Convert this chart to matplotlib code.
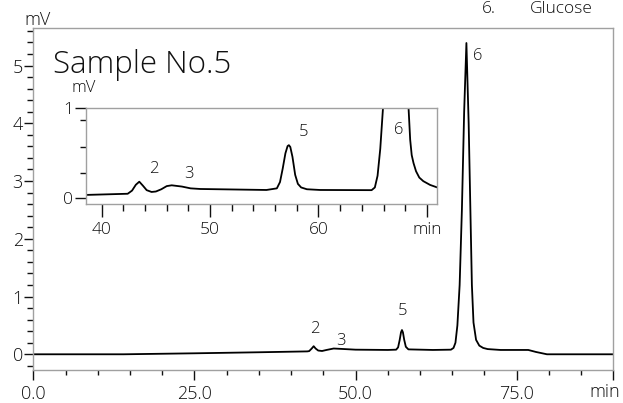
import matplotlib
matplotlib.use("Agg")
import matplotlib.pyplot as plt
from matplotlib.ticker import FixedLocator

plt.rcParams['font.family'] = ['Open Sans', 'DejaVu Sans']
plt.rcParams['font.weight'] = 'light'

# Full chromatogram trace (retention time in min, detector signal in mV)
main_time = [0.0, 14.0, 25.0, 35.0, 42.5, 42.8, 43.2, 43.5, 43.8, 44.2, 44.8, 45.5,
             46.6, 47.5, 50.0, 55.0, 56.3, 56.6, 56.85, 57.05, 57.2, 57.35, 57.55,
             57.8, 58.2, 62.0, 64.8, 65.2, 65.5, 65.8, 66.15, 66.5, 66.85, 67.2,
             67.55, 67.8, 68.05, 68.3, 68.7, 69.2, 69.8, 70.5, 72.5, 76.8, 78.0,
             79.7, 90.0]
main_mv = [0.0, 0.0, 0.017, 0.035, 0.05, 0.055, 0.1, 0.14, 0.1, 0.065, 0.057, 0.075,
           0.10, 0.095, 0.08, 0.075, 0.08, 0.12, 0.25, 0.38, 0.42, 0.38, 0.25,
           0.13, 0.085, 0.075, 0.08, 0.11, 0.2, 0.5, 1.2, 2.5, 4.2, 5.39,
           4.0, 2.6, 1.2, 0.55, 0.25, 0.15, 0.11, 0.09, 0.075, 0.075, 0.04,
           0.0, 0.0]

# Enlarged section 38-71 min
inset_time = [38.55, 42.4, 42.8, 43.15, 43.47, 43.8, 44.15, 44.6, 45.0, 45.5, 46.0,
              46.46, 47.4, 48.2, 49.1, 55.2, 56.16, 56.45, 56.7, 56.95, 57.15, 57.27,
              57.4, 57.6, 57.85, 58.1, 58.4, 58.93, 60.15, 64.9, 65.2, 65.45, 65.7,
              65.95, 67.2, 68.31, 68.46, 68.6, 68.77, 69.0, 69.3, 69.67, 70.3, 70.96]
inset_mv = [0.037, 0.05, 0.085, 0.15, 0.184, 0.14, 0.09, 0.07, 0.075, 0.1, 0.135,
            0.144, 0.13, 0.11, 0.103, 0.092, 0.11, 0.18, 0.33, 0.5, 0.58, 0.59,
            0.57, 0.46, 0.26, 0.16, 0.12, 0.10, 0.092, 0.09, 0.12, 0.25, 0.55,
            1.0, 7.55, 1.0, 0.65, 0.48, 0.39, 0.3, 0.23, 0.19, 0.148, 0.12]

# peak numbers: (label, time, height of label)
main_labels = [("2", 43.7, 0.44), ("3", 47.75, 0.23), ("5", 57.3, 0.75), ("6", 69.0, 5.17)]
inset_labels = [("2", 44.83, 0.326), ("3", 48.06, 0.27), ("5", 58.59, 0.737), ("6", 67.36, 0.76)]

spine_col = "#a0a0a0"
text_col = "#111111"

fig = plt.figure(figsize=(6.23, 4.03), dpi=100)

# main chromatogram
ax = fig.add_axes([0.0535, 0.0819, 0.931, 0.8486])
ax.plot(main_time, main_mv, color="black", lw=1.3)
ax.set_xlim(0, 90)
ax.set_ylim(-0.272, 5.65)
for s in ax.spines.values():
    s.set_color(spine_col)
    s.set_linewidth(1.0)

ax.xaxis.set_major_locator(FixedLocator([0, 25, 50, 75, 90]))
ax.set_xticklabels(["0.0", "25.0", "50.0", "75.0", ""])
ax.xaxis.set_minor_locator(FixedLocator([t for t in range(5, 90, 5) if t % 25]))
ax.yaxis.set_major_locator(FixedLocator([0, 1, 2, 3, 4, 5]))
ax.yaxis.set_minor_locator(FixedLocator([i * 0.2 for i in range(-1, 29) if i % 5]))
ax.tick_params(axis="x", which="major", length=7, width=1, color=text_col,
               labelsize=13, labelcolor=text_col, pad=4)
ax.tick_params(axis="x", which="minor", length=3.8, width=1, color=text_col)
ax.tick_params(axis="y", which="major", length=6.5, width=1, color=text_col,
               labelsize=13, labelcolor=text_col, pad=1)
ax.tick_params(axis="y", which="minor", length=4.3, width=1, color=text_col)

fig.text(620 / 623, 1 - 392 / 403, "min", ha="right", va="center", fontsize=13, color=text_col)
fig.text(38 / 623, 1 - 20 / 403, "mV", ha="center", va="center", fontsize=13, color=text_col)
fig.text(53 / 623, 1 - 73 / 403, "Sample No.5", ha="left", va="baseline", fontsize=22.5, color=text_col)
fig.text(482 / 623, 1 - 12.7 / 403, "6.", ha="left", va="baseline", fontsize=12.5, color=text_col)
fig.text(530 / 623, 1 - 12.7 / 403, "Glucose", ha="left", va="baseline", fontsize=12.5, color=text_col)

for lab, t, v in main_labels:
    ax.text(t, v, lab, ha="center", va="center", fontsize=12, color=text_col)

# enlarged view of the small peaks
ins = fig.add_axes([0.138, 0.4931, 0.5639, 0.2382])
ins.plot(inset_time, inset_mv, color="black", lw=1.3)
ins.set_xlim(38.55, 70.96)
ins.set_ylim(-0.067, 1.0)
for s in ins.spines.values():
    s.set_color(spine_col)
    s.set_linewidth(1.0)
ins.xaxis.set_major_locator(FixedLocator([40, 50, 60, 70]))
ins.set_xticklabels(["40", "50", "60", "min"])
ins.xaxis.set_minor_locator(FixedLocator([t for t in range(42, 70, 2) if t % 10]))
ins.yaxis.set_major_locator(FixedLocator([0, 1]))
ins.yaxis.set_minor_locator(FixedLocator([0.278, 0.573, 0.87]))
ins.tick_params(axis="x", which="major", length=9.5, width=1, color=text_col,
                labelsize=12.5, labelcolor=text_col, pad=3)
ins.tick_params(axis="x", which="minor", length=5, width=1, color=text_col)
ins.tick_params(axis="y", which="major", length=8, width=1, color=text_col,
                labelsize=12.5, labelcolor=text_col, pad=1)
ins.tick_params(axis="y", which="minor", length=4.5, width=1, color=text_col)
fig.text(84 / 623, 1 - 88 / 403, "mV", ha="center", va="center", fontsize=12, color=text_col)

for lab, t, v in inset_labels:
    ins.text(t, v, lab, ha="center", va="center", fontsize=12, color=text_col)

fig.savefig("out.png", dpi=100)
